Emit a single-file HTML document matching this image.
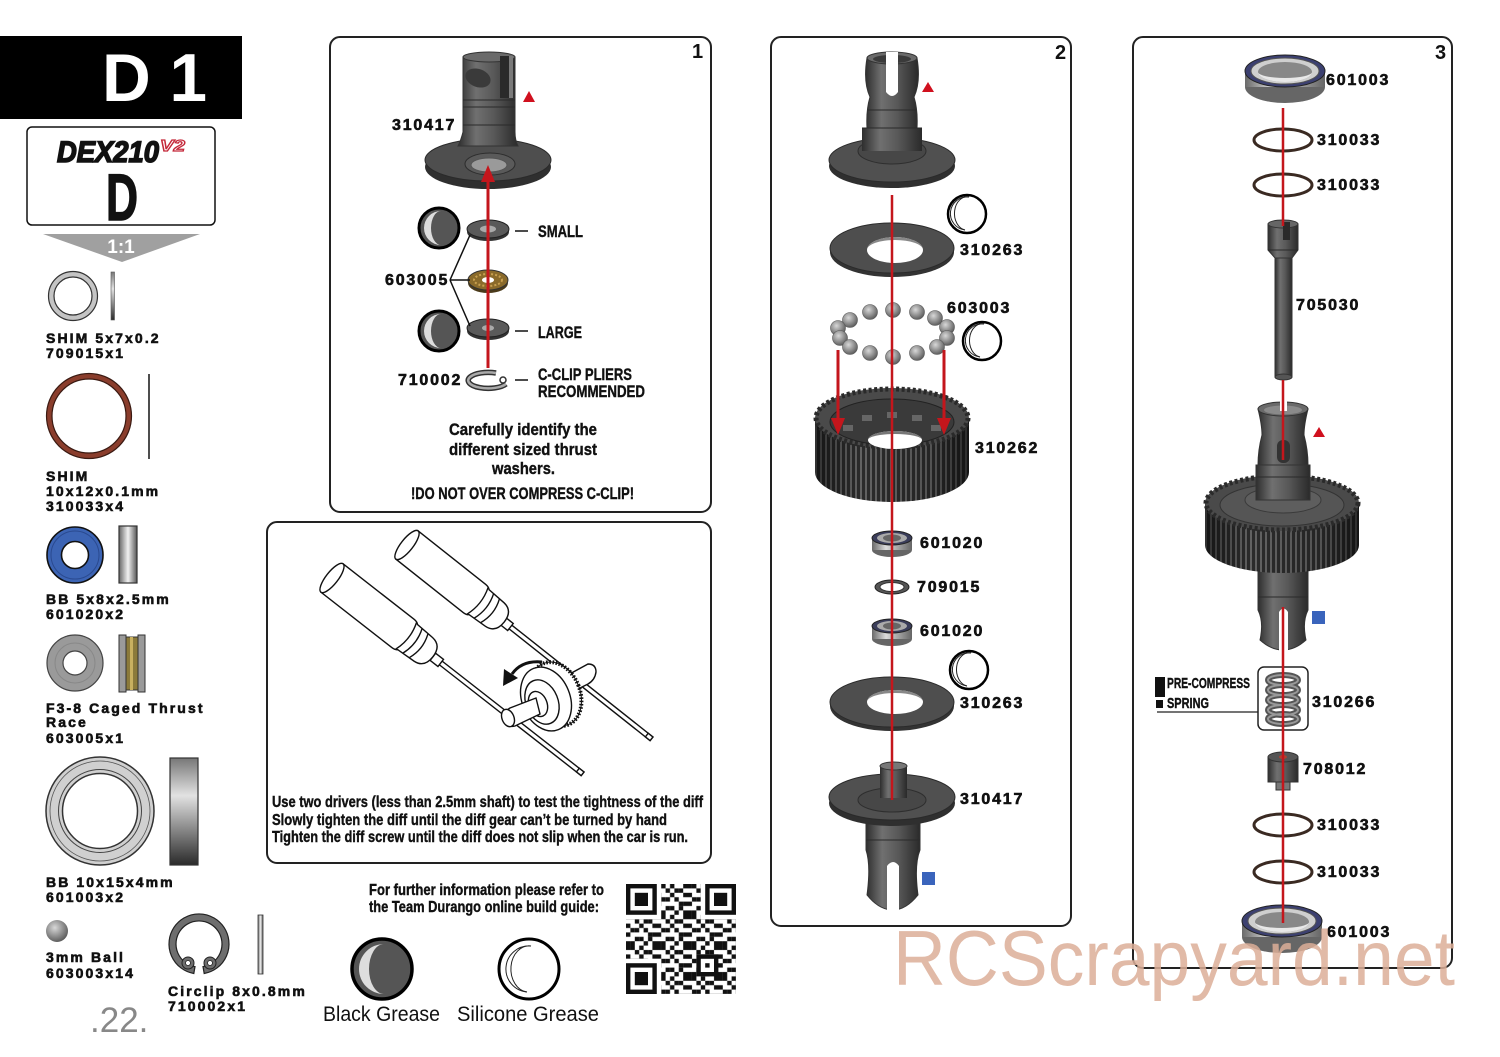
<!DOCTYPE html>
<html><head><meta charset="utf-8">
<style>
html,body{margin:0;padding:0;background:#fff;}
svg{display:block;}
.lb{font-family:"Liberation Sans",sans-serif;font-weight:bold;font-size:16px;letter-spacing:1.8px;fill:#111;stroke:#111;stroke-width:0.6px;}
.pl{font-family:"Liberation Sans",sans-serif;font-weight:bold;font-size:14px;letter-spacing:2.1px;fill:#111;stroke:#111;stroke-width:0.6px;}
.cn{font-family:"Liberation Sans Narrow","Liberation Sans",sans-serif;font-weight:bold;fill:#111;stroke:#111;stroke-width:0.4px;}
</style></head><body>
<svg width="1500" height="1057" viewBox="0 0 1500 1057" xmlns="http://www.w3.org/2000/svg">
<defs>
<linearGradient id="cyl" x1="0" x2="1" y1="0" y2="0">
<stop offset="0" stop-color="#2e2e2e"/><stop offset="0.3" stop-color="#707070"/><stop offset="0.6" stop-color="#585858"/><stop offset="1" stop-color="#2a2a2a"/>
</linearGradient>
<linearGradient id="brg" x1="0" x2="1" y1="0" y2="0">
<stop offset="0" stop-color="#6a6a6a"/><stop offset="0.35" stop-color="#dcdcdc"/><stop offset="1" stop-color="#666"/>
</linearGradient>
<linearGradient id="side" x1="0" x2="1" y1="0" y2="0">
<stop offset="0" stop-color="#666"/><stop offset="0.5" stop-color="#f2f2f2"/><stop offset="1" stop-color="#555"/>
</linearGradient>
<linearGradient id="sidev" x1="0" x2="0" y1="0" y2="1">
<stop offset="0" stop-color="#777"/><stop offset="0.35" stop-color="#e2e2e2"/><stop offset="1" stop-color="#2a2a2a"/>
</linearGradient>
<radialGradient id="ball" cx="0.4" cy="0.35" r="0.7">
<stop offset="0" stop-color="#d8d8d8"/><stop offset="1" stop-color="#555"/>
</radialGradient>
<pattern id="teeth" width="5" height="400" patternUnits="userSpaceOnUse">
<rect width="5" height="400" fill="#2b2b2b"/><rect width="2" height="400" fill="#626262"/>
</pattern>
<linearGradient id="shade" x1="0" x2="1" y1="0" y2="0">
<stop offset="0" stop-color="#000" stop-opacity="0.5"/><stop offset="0.3" stop-color="#000" stop-opacity="0"/><stop offset="0.75" stop-color="#000" stop-opacity="0.15"/><stop offset="1" stop-color="#000" stop-opacity="0.55"/>
</linearGradient>
<pattern id="qr" width="30.8" height="30.8" patternUnits="userSpaceOnUse" x="626" y="884">
<g fill="#111">
<rect x="0" y="0" width="4.4" height="4.4"/><rect x="4.4" y="0" width="4.4" height="4.4"/><rect x="13.2" y="0" width="4.4" height="4.4"/><rect x="26.4" y="0" width="4.4" height="4.4"/>
<rect x="8.8" y="4.4" width="4.4" height="4.4"/><rect x="17.6" y="4.4" width="4.4" height="4.4"/><rect x="22" y="4.4" width="4.4" height="4.4"/>
<rect x="0" y="8.8" width="4.4" height="4.4"/><rect x="13.2" y="8.8" width="4.4" height="4.4"/><rect x="26.4" y="8.8" width="4.4" height="4.4"/>
<rect x="4.4" y="13.2" width="4.4" height="4.4"/><rect x="8.8" y="13.2" width="4.4" height="4.4"/><rect x="17.6" y="13.2" width="4.4" height="4.4"/>
<rect x="0" y="17.6" width="4.4" height="4.4"/><rect x="22" y="17.6" width="4.4" height="4.4"/><rect x="26.4" y="17.6" width="4.4" height="4.4"/>
<rect x="8.8" y="22" width="4.4" height="4.4"/><rect x="13.2" y="22" width="4.4" height="4.4"/><rect x="22" y="22" width="4.4" height="4.4"/>
<rect x="0" y="26.4" width="4.4" height="4.4"/><rect x="4.4" y="26.4" width="4.4" height="4.4"/><rect x="17.6" y="26.4" width="4.4" height="4.4"/><rect x="26.4" y="26.4" width="4.4" height="4.4"/>
</g>
</pattern>
</defs>

<rect width="1500" height="1057" fill="#fff"/>

<!-- ===== HEADER ===== -->
<rect x="0" y="36" width="242" height="83" fill="#000"/>
<text x="102" y="101" font-family="Liberation Sans, sans-serif" font-weight="bold" font-size="68" fill="#fff" textLength="105" lengthAdjust="spacingAndGlyphs">D 1</text>

<rect x="27" y="127" width="188" height="98" rx="5" fill="#fff" stroke="#111" stroke-width="1.5"/>
<text x="57" y="162" font-family="Liberation Sans, sans-serif" font-weight="bold" font-style="italic" font-size="30" fill="#111" stroke="#111" stroke-width="1.6" textLength="102" lengthAdjust="spacingAndGlyphs">DEX210</text>
<text x="160" y="151" font-family="Liberation Sans, sans-serif" font-weight="bold" font-style="italic" font-size="16" fill="#fff" stroke="#c4283a" stroke-width="1.2" textLength="25" lengthAdjust="spacingAndGlyphs">V2</text>
<text x="106" y="220" font-family="Liberation Sans, sans-serif" font-weight="bold" font-size="66" fill="#111" stroke="#111" stroke-width="1.5" textLength="32" lengthAdjust="spacingAndGlyphs">D</text>
<polygon points="43,234 200,234 122,262" fill="#a0a0a0"/>
<text x="121" y="253" text-anchor="middle" font-family="Liberation Sans, sans-serif" font-weight="bold" font-size="19" fill="#fff">1:1</text>

<!-- ===== PARTS LIST ===== -->
<circle cx="73" cy="296" r="24.5" fill="#c4c4c4" stroke="#333" stroke-width="1.2"/>
<circle cx="73" cy="296" r="19" fill="#fff" stroke="#333" stroke-width="1.2"/>
<rect x="111" y="272" width="3.5" height="48" fill="url(#sidev)" stroke="#555" stroke-width="0.6"/>
<text class="pl" x="46" y="343">SHIM 5x7x0.2</text>
<text class="pl" x="46" y="358">709015x1</text>

<circle cx="89" cy="416" r="42.5" fill="#8a3d2c" stroke="#3a1a12" stroke-width="1.2"/>
<circle cx="89" cy="416" r="37" fill="#fff" stroke="#3a1a12" stroke-width="1.2"/>
<line x1="149" y1="374" x2="149" y2="459" stroke="#222" stroke-width="1.6"/>
<text class="pl" x="46" y="481">SHIM</text>
<text class="pl" x="46" y="496">10x12x0.1mm</text>
<text class="pl" x="46" y="511">310033x4</text>

<circle cx="75" cy="555" r="28" fill="#3c64b4" stroke="#111" stroke-width="1.6"/>
<circle cx="75" cy="555" r="24" fill="none" stroke="#2a4a90" stroke-width="1"/>
<circle cx="75" cy="555" r="13.5" fill="#fff" stroke="#111" stroke-width="1.6"/>
<rect x="119" y="526" width="18" height="57" fill="url(#side)" stroke="#333" stroke-width="1.2"/>
<text class="pl" x="46" y="604">BB 5x8x2.5mm</text>
<text class="pl" x="46" y="619">601020x2</text>

<circle cx="75" cy="663" r="28" fill="#9a9a9a" stroke="#444" stroke-width="1.2"/>
<circle cx="75" cy="663" r="20" fill="none" stroke="#888" stroke-width="1"/>
<circle cx="75" cy="663" r="12" fill="#fff" stroke="#444" stroke-width="1.2"/>
<rect x="119" y="635" width="7" height="57" fill="#9a9a9a" stroke="#333"/>
<rect x="126" y="637" width="12" height="53" fill="#8b7a3a" stroke="#333"/>
<rect x="130" y="637" width="3" height="53" fill="#c8b060"/>
<rect x="138" y="635" width="7" height="57" fill="#9a9a9a" stroke="#333"/>
<text class="pl" x="46" y="713">F3-8 Caged Thrust</text>
<text class="pl" x="46" y="727">Race</text>
<text class="pl" x="46" y="743">603005x1</text>

<circle cx="100" cy="811" r="54" fill="#d0d0d0" stroke="#333" stroke-width="1.5"/>
<circle cx="100" cy="811" r="50" fill="none" stroke="#555" stroke-width="0.8"/>
<circle cx="100" cy="811" r="41.5" fill="none" stroke="#444" stroke-width="1"/>
<circle cx="100" cy="811" r="37.5" fill="#fff" stroke="#333" stroke-width="1.5"/>
<rect x="170" y="758" width="28" height="107" fill="url(#sidev)" stroke="#333" stroke-width="1.2"/>
<text class="pl" x="46" y="887">BB 10x15x4mm</text>
<text class="pl" x="46" y="902">601003x2</text>

<circle cx="57" cy="931" r="11" fill="url(#ball)"/>
<text class="pl" x="46" y="962">3mm Ball</text>
<text class="pl" x="46" y="978">603003x14</text>

<path d="M193.8,973.5 A30,30 0 1 1 204.2,973.5 L203,966.6 A23,23 0 1 0 195,966.6 Z" fill="#6e6e6e" stroke="#222" stroke-width="1.2"/>
<circle cx="188" cy="963" r="6" fill="#6e6e6e" stroke="#222"/>
<circle cx="210" cy="963" r="6" fill="#6e6e6e" stroke="#222"/>
<circle cx="188" cy="963" r="2.5" fill="#fff" stroke="#222" stroke-width="0.8"/>
<circle cx="210" cy="963" r="2.5" fill="#fff" stroke="#222" stroke-width="0.8"/>
<rect x="258" y="915" width="5" height="59" fill="url(#side)" stroke="#333" stroke-width="0.8"/>
<text class="pl" x="168" y="996">Circlip 8x0.8mm</text>
<text class="pl" x="168" y="1011">710002x1</text>

<text x="90" y="1032" font-family="Liberation Sans, sans-serif" font-size="35" fill="#888">.22.</text>

<!-- ===== PANEL 1 ===== -->
<rect x="330" y="37" width="381" height="475" rx="10" fill="#fff" stroke="#222" stroke-width="2"/>
<text x="692" y="58" font-family="Liberation Sans, sans-serif" font-weight="bold" font-size="20" fill="#111">1</text>

<ellipse cx="488" cy="167" rx="63" ry="22" fill="#2f2f2f"/>
<ellipse cx="488" cy="160" rx="63" ry="21" fill="#4e4e4e" stroke="#2a2a2a"/>
<path d="M463,57 L463,132 Q461,140 458,146 L518,146 Q515,140 515,132 L515,57 Z" fill="url(#cyl)" stroke="#333"/>
<ellipse cx="489" cy="57" rx="26" ry="5" fill="#6a6a6a" stroke="#333"/>
<ellipse cx="478" cy="78" rx="13" ry="9" transform="rotate(20 478 78)" fill="#3a3a3a"/>
<rect x="500" y="56" width="9" height="42" fill="#2a2a2a"/>
<rect x="509" y="56" width="4" height="42" fill="#7a7a7a"/>
<line x1="463" y1="100" x2="515" y2="100" stroke="#2a2a2a"/>
<line x1="463" y1="107" x2="515" y2="107" stroke="#2a2a2a"/>
<line x1="463" y1="125" x2="515" y2="125" stroke="#2a2a2a"/>
<ellipse cx="490" cy="164" rx="25" ry="11" fill="#5a5a5a" stroke="#2e2e2e"/>
<ellipse cx="489" cy="165" rx="18" ry="7" fill="#9a9a9a" stroke="#555"/>
<polygon points="523,102 535,102 529,91" fill="#d0101e"/>

<circle cx="439" cy="228" r="20" fill="#555" stroke="#000" stroke-width="3"/>
<path d="M441,211 A17,17 0 0 0 441,245 A10,17 0 0 1 441,211 Z" fill="#ddd"/>
<circle cx="439" cy="331" r="20" fill="#555" stroke="#000" stroke-width="3"/>
<path d="M441,314 A17,17 0 0 0 441,348 A10,17 0 0 1 441,314 Z" fill="#ddd"/>

<ellipse cx="488" cy="232" rx="21" ry="9" fill="#333"/>
<ellipse cx="488" cy="229" rx="21" ry="9" fill="#5a5a5a" stroke="#222"/>
<ellipse cx="488" cy="229" rx="8" ry="3.5" fill="#aaa"/>
<ellipse cx="488" cy="283" rx="20" ry="10" fill="#4a3a1a"/>
<ellipse cx="488" cy="280" rx="20" ry="10" fill="#8a6a2a" stroke="#333"/>
<ellipse cx="488" cy="280" rx="14" ry="6" fill="none" stroke="#c8a050" stroke-width="2" stroke-dasharray="2 2"/>
<ellipse cx="488" cy="280" rx="6" ry="3" fill="#fff"/>
<ellipse cx="488" cy="331" rx="21" ry="9" fill="#333"/>
<ellipse cx="488" cy="328" rx="21" ry="9" fill="#5a5a5a" stroke="#222"/>
<ellipse cx="488" cy="328" rx="6" ry="3" fill="#aaa"/>
<path d="M496,373 A20,8 0 1 0 506,384" fill="none" stroke="#333" stroke-width="5.5"/>
<path d="M496,373 A20,8 0 1 0 506,384" fill="none" stroke="#aaa" stroke-width="2.5"/>
<circle cx="503" cy="380" r="3" fill="none" stroke="#333" stroke-width="1.5"/>

<line x1="488" y1="178" x2="488" y2="368" stroke="#c4161c" stroke-width="3"/>
<polygon points="481,182 495,182 488,165" fill="#c4161c"/>

<line x1="515" y1="231" x2="528" y2="231" stroke="#111" stroke-width="1.5"/>
<line x1="515" y1="331" x2="528" y2="331" stroke="#111" stroke-width="1.5"/>
<line x1="515" y1="380" x2="528" y2="380" stroke="#111" stroke-width="1.5"/>
<path d="M450,280 L470,235 M450,280 L470,280 M450,280 L470,326" fill="none" stroke="#111" stroke-width="1.5"/>

<text class="lb" x="392" y="130">310417</text>
<text class="lb" x="385" y="285">603005</text>
<text class="lb" x="398" y="385">710002</text>
<text class="cn" x="538" y="237" font-size="17" textLength="45" lengthAdjust="spacingAndGlyphs">SMALL</text>
<text class="cn" x="538" y="338" font-size="17" textLength="44" lengthAdjust="spacingAndGlyphs">LARGE</text>
<text class="cn" x="538" y="380" font-size="17" textLength="94" lengthAdjust="spacingAndGlyphs">C-CLIP PLIERS</text>
<text class="cn" x="538" y="397" font-size="17" textLength="107" lengthAdjust="spacingAndGlyphs">RECOMMENDED</text>
<text class="cn" x="449" y="435" font-size="17" textLength="148" lengthAdjust="spacingAndGlyphs">Carefully identify the</text>
<text class="cn" x="449" y="455" font-size="17" textLength="148" lengthAdjust="spacingAndGlyphs">different sized thrust</text>
<text class="cn" x="492" y="474" font-size="17" textLength="63" lengthAdjust="spacingAndGlyphs">washers.</text>
<text class="cn" x="411" y="499" font-size="17" textLength="223" lengthAdjust="spacingAndGlyphs">!DO NOT OVER COMPRESS C-CLIP!</text>

<!-- ===== MIDDLE PANEL (drivers) ===== -->
<rect x="267" y="522" width="444" height="341" rx="10" fill="#fff" stroke="#222" stroke-width="2"/>
<g stroke="#111" stroke-width="1.4" fill="#fff">
 <g transform="translate(407,545) rotate(38.4)">
  <rect x="128" y="-2.3" width="184" height="4.6"/>
  <rect x="122" y="-4.5" width="10" height="9"/>
  <path d="M0,-18 L86,-18 Q90,-18 92,-16 L112,-15 Q124,-14 124,0 Q124,14 112,15 L92,16 Q90,18 86,18 L0,18 Z"/>
  <ellipse cx="0" cy="0" rx="6" ry="18"/>
  <path d="M90,-17 Q96,0 90,17 M98,-16 Q104,0 98,16 M106,-15 Q112,0 106,15" fill="none"/>
  <rect x="306" y="-2.3" width="6" height="4.6"/>
 </g>
 <g transform="translate(332,578) rotate(38)">
  <rect x="134" y="-2.3" width="184" height="4.6"/>
  <rect x="128" y="-4.5" width="10" height="9"/>
  <path d="M0,-18 L90,-18 Q94,-18 96,-16 L116,-15 Q128,-14 128,0 Q128,14 116,15 L96,16 Q94,18 90,18 L0,18 Z"/>
  <ellipse cx="0" cy="0" rx="6" ry="18"/>
  <path d="M94,-17 Q100,0 94,17 M102,-16 Q108,0 102,16 M110,-15 Q116,0 110,15" fill="none"/>
  <rect x="312" y="-2.3" width="6" height="4.6"/>
 </g>
 <path d="M566,676 L588,664 Q596,664 596,672 Q595,680 588,684 L572,692 Z"/>
 <ellipse cx="556" cy="694" rx="24" ry="33" transform="rotate(-22 556 694)" stroke-width="4" stroke-dasharray="1.6 1.6"/>
 <ellipse cx="556" cy="694" rx="24" ry="33" transform="rotate(-22 556 694)" fill="none" stroke-width="1"/>
 <ellipse cx="546" cy="699" rx="24" ry="33" transform="rotate(-22 546 699)" stroke-width="1.4"/>
 <ellipse cx="542" cy="702" rx="16" ry="23" transform="rotate(-22 542 702)"/>
 <ellipse cx="538" cy="704" rx="9" ry="13" transform="rotate(-22 538 704)"/>
 <path d="M536,698 L510,708 Q503,712 504,720 Q507,728 515,726 L540,714 Z"/>
 <ellipse cx="508" cy="718" rx="6" ry="9" transform="rotate(-22 508 718)"/>
 <path d="M542,662 Q522,660 512,674" fill="none" stroke-width="3"/>
</g>
<polygon points="503,686 504,669 518,678" fill="#111"/>
<text class="cn" x="272" y="807" font-size="16" textLength="431" lengthAdjust="spacingAndGlyphs">Use two drivers (less than 2.5mm shaft) to test the tightness of the diff</text>
<text class="cn" x="272" y="825" font-size="16" textLength="395" lengthAdjust="spacingAndGlyphs">Slowly tighten the diff until the diff gear can’t be turned by hand</text>
<text class="cn" x="272" y="842" font-size="16" textLength="416" lengthAdjust="spacingAndGlyphs">Tighten the diff screw until the diff does not slip when the car is run.</text>

<!-- ===== BOTTOM INFO ===== -->
<text class="cn" x="369" y="895" font-size="16" textLength="235" lengthAdjust="spacingAndGlyphs">For further information please refer to</text>
<text class="cn" x="369" y="912" font-size="16" textLength="230" lengthAdjust="spacingAndGlyphs">the Team Durango online build guide:</text>
<circle cx="382" cy="969" r="30" fill="#555" stroke="#000" stroke-width="3.5"/>
<path d="M384,944 A25,25 0 0 0 384,994 A15,25 0 0 1 384,944 Z" fill="#ddd"/>
<circle cx="529" cy="969" r="30" fill="#fff" stroke="#000" stroke-width="3"/>
<path d="M531,946 A23,23 0 0 0 527,992" fill="none" stroke="#222" stroke-width="1"/>
<path d="M531,946 A18,23 0 0 0 527,992" fill="none" stroke="#222" stroke-width="1"/>
<text x="323" y="1021" font-family="Liberation Sans, sans-serif" font-size="21" fill="#111" textLength="117" lengthAdjust="spacingAndGlyphs">Black Grease</text>
<text x="457" y="1021" font-family="Liberation Sans, sans-serif" font-size="21" fill="#111" textLength="142" lengthAdjust="spacingAndGlyphs">Silicone Grease</text>

<rect x="626" y="884" width="110" height="110" fill="#fff"/>
<rect x="626" y="884" width="110" height="110" fill="url(#qr)"/>
<g>
 <rect x="626" y="884" width="35.2" height="35.2" fill="#fff"/>
 <rect x="626" y="884" width="30.8" height="30.8" fill="#111"/><rect x="630.4" y="888.4" width="22" height="22" fill="#fff"/><rect x="634.8" y="892.8" width="13.2" height="13.2" fill="#111"/>
 <rect x="700.8" y="884" width="35.2" height="35.2" fill="#fff"/>
 <rect x="705.2" y="884" width="30.8" height="30.8" fill="#111"/><rect x="709.6" y="888.4" width="22" height="22" fill="#fff"/><rect x="714" y="892.8" width="13.2" height="13.2" fill="#111"/>
 <rect x="626" y="958.8" width="35.2" height="35.2" fill="#fff"/>
 <rect x="626" y="963.2" width="30.8" height="30.8" fill="#111"/><rect x="630.4" y="967.6" width="22" height="22" fill="#fff"/><rect x="634.8" y="972" width="13.2" height="13.2" fill="#111"/>
 <rect x="696.4" y="954.4" width="22" height="22" fill="#111"/><rect x="700.8" y="958.8" width="13.2" height="13.2" fill="#fff"/><rect x="705.2" y="963.2" width="4.4" height="4.4" fill="#111"/>
</g>

<!-- ===== PANEL 2 ===== -->
<rect x="771" y="37" width="300" height="889" rx="10" fill="#fff" stroke="#222" stroke-width="2"/>
<text x="1055" y="59" font-family="Liberation Sans, sans-serif" font-weight="bold" font-size="20" fill="#111">2</text>

<ellipse cx="892" cy="166" rx="63" ry="22" fill="#2f2f2f"/>
<ellipse cx="892" cy="160" rx="63" ry="22" fill="#505050" stroke="#2a2a2a"/>
<ellipse cx="892" cy="151" rx="34" ry="13" fill="#474747" stroke="#2e2e2e"/>
<rect x="862" y="128" width="60" height="23" fill="url(#cyl)"/>
<path d="M867,58 Q863,82 870,97 Q866,110 867,128 L917,128 Q918,110 914,97 Q921,82 917,58 Z" fill="url(#cyl)" stroke="#333"/>
<ellipse cx="892" cy="58" rx="25" ry="6" fill="#6a6a6a" stroke="#333"/>
<ellipse cx="892" cy="59" rx="19" ry="4" fill="#3a3a3a"/>
<path d="M886,52 L886,92 Q892,100 898,92 L898,52 Z" fill="#fff"/>
<line x1="868" y1="110" x2="916" y2="110" stroke="#2a2a2a"/>
<line x1="862" y1="128" x2="922" y2="128" stroke="#2a2a2a"/>
<polygon points="922,92 934,92 928,82" fill="#d0101e"/>

<ellipse cx="892" cy="252" rx="62" ry="25" fill="#333"/>
<ellipse cx="892" cy="248" rx="62" ry="25" fill="#4e4e4e" stroke="#2a2a2a"/>
<ellipse cx="895" cy="250" rx="28" ry="13" fill="#fff"/>
<path d="M867,250 A28,13 0 0 1 923,250 A28,10 0 0 0 867,250 Z" fill="#888"/>
<circle cx="967" cy="214" r="19" fill="#fff" stroke="#000" stroke-width="2.5"/>
<path d="M969,197 A16,16 0 0 0 965,230" fill="none" stroke="#222" stroke-width="1"/>
<path d="M969,197 A12,16 0 0 0 965,230" fill="none" stroke="#222" stroke-width="1"/>

<g fill="url(#ball)" stroke="#555" stroke-width="0.6">
<circle cx="893" cy="310" r="7.5"/><circle cx="870" cy="312" r="7.5"/><circle cx="917" cy="312" r="7.5"/>
<circle cx="850" cy="320" r="7.5"/><circle cx="935" cy="318" r="7.5"/><circle cx="838" cy="328" r="7.5"/>
<circle cx="947" cy="327" r="7.5"/><circle cx="840" cy="338" r="7.5"/><circle cx="947" cy="338" r="7.5"/>
<circle cx="850" cy="347" r="7.5"/><circle cx="937" cy="347" r="7.5"/><circle cx="870" cy="353" r="7.5"/>
<circle cx="893" cy="357" r="7.5"/><circle cx="917" cy="353" r="7.5"/>
</g>
<circle cx="982" cy="341" r="19" fill="#fff" stroke="#000" stroke-width="2.5"/>
<path d="M984,324 A16,16 0 0 0 980,357" fill="none" stroke="#222" stroke-width="1"/>
<path d="M984,324 A12,16 0 0 0 980,357" fill="none" stroke="#222" stroke-width="1"/>

<path d="M815,418 L815,472 A77,30 0 0 0 969,472 L969,418 Z" fill="url(#teeth)"/>
<path d="M815,418 L815,472 A77,30 0 0 0 969,472 L969,418 Z" fill="url(#shade)"/>
<ellipse cx="892" cy="418" rx="77" ry="30" fill="#4a4a4a"/>
<ellipse cx="892" cy="418" rx="76" ry="29" fill="none" stroke="#2a2a2a" stroke-width="5" stroke-dasharray="3 2.5"/>
<ellipse cx="892" cy="422" rx="62" ry="23" fill="#3a3a3a" stroke="#222"/>
<g fill="#666">
<rect x="843" y="425" width="10" height="6"/><rect x="862" y="415" width="10" height="6"/><rect x="887" y="412" width="10" height="6"/><rect x="912" y="415" width="10" height="6"/><rect x="931" y="425" width="10" height="6"/>
</g>
<ellipse cx="895" cy="440" rx="27" ry="9" fill="#fff"/>
<path d="M868,440 A27,9 0 0 1 922,440 A27,6 0 0 0 868,440 Z" fill="#777"/>
<line x1="838" y1="350" x2="838" y2="420" stroke="#c4161c" stroke-width="3"/>
<polygon points="831,418 845,418 838,435" fill="#c4161c"/>
<line x1="944" y1="350" x2="944" y2="420" stroke="#c4161c" stroke-width="3"/>
<polygon points="937,418 951,418 944,435" fill="#c4161c"/>

<ellipse cx="892" cy="550" rx="20" ry="7" fill="#666"/>
<rect x="872" y="538" width="40" height="12" fill="url(#brg)"/>
<ellipse cx="892" cy="538" rx="20" ry="7" fill="#3a3d5a" stroke="#222"/>
<ellipse cx="892" cy="538" rx="15" ry="5" fill="#aaa"/>
<ellipse cx="892" cy="538" rx="9" ry="3.5" fill="#666"/>
<ellipse cx="892" cy="587" rx="17" ry="7" fill="#555" stroke="#222"/>
<ellipse cx="892" cy="587" rx="12" ry="4.5" fill="#fff" stroke="#333"/>
<ellipse cx="892" cy="639" rx="20" ry="7" fill="#666"/>
<rect x="872" y="626" width="40" height="13" fill="url(#brg)"/>
<ellipse cx="892" cy="626" rx="20" ry="7" fill="#3a3d5a" stroke="#222"/>
<ellipse cx="892" cy="626" rx="15" ry="5" fill="#aaa"/>
<ellipse cx="892" cy="626" rx="9" ry="3.5" fill="#666"/>

<ellipse cx="892" cy="706" rx="62" ry="25" fill="#333"/>
<ellipse cx="892" cy="702" rx="62" ry="25" fill="#4e4e4e" stroke="#2a2a2a"/>
<ellipse cx="895" cy="702" rx="28" ry="12" fill="#fff"/>
<path d="M867,702 A28,12 0 0 1 923,702 A28,9 0 0 0 867,702 Z" fill="#888"/>
<circle cx="969" cy="670" r="19" fill="#fff" stroke="#000" stroke-width="2.5"/>
<path d="M971,653 A16,16 0 0 0 967,686" fill="none" stroke="#222" stroke-width="1"/>
<path d="M971,653 A12,16 0 0 0 967,686" fill="none" stroke="#222" stroke-width="1"/>

<path d="M866,818 L920,818 L920,850 Q914,865 918,895 Q906,910 893,910 Q879,910 867,895 Q871,865 866,850 Z" fill="url(#cyl)" stroke="#333"/>
<line x1="866" y1="840" x2="920" y2="840" stroke="#2a2a2a"/>
<path d="M887,911 L887,866 Q893,858 899,866 L899,911 Z" fill="#fff"/>
<ellipse cx="892" cy="803" rx="63" ry="23" fill="#2f2f2f"/>
<ellipse cx="892" cy="797" rx="63" ry="23" fill="#505050" stroke="#2a2a2a"/>
<ellipse cx="892" cy="800" rx="34" ry="12" fill="#474747" stroke="#2e2e2e"/>
<rect x="880" y="766" width="27" height="32" fill="url(#cyl)"/>
<ellipse cx="893.5" cy="766" rx="13.5" ry="4" fill="#777" stroke="#333"/>
<rect x="922" y="872" width="13" height="13" fill="#3a64bc"/>

<line x1="892" y1="195" x2="892" y2="800" stroke="#c4161c" stroke-width="2.5"/>

<text class="lb" x="960" y="255">310263</text>
<text class="lb" x="947" y="313">603003</text>
<text class="lb" x="975" y="453">310262</text>
<text class="lb" x="920" y="548">601020</text>
<text class="lb" x="917" y="592">709015</text>
<text class="lb" x="920" y="636">601020</text>
<text class="lb" x="960" y="708">310263</text>
<text class="lb" x="960" y="804">310417</text>

<!-- ===== PANEL 3 ===== -->
<rect x="1133" y="37" width="319" height="931" rx="10" fill="#fff" stroke="#222" stroke-width="2"/>
<text x="1435" y="59" font-family="Liberation Sans, sans-serif" font-weight="bold" font-size="20" fill="#111">3</text>

<ellipse cx="1285" cy="87" rx="40" ry="16" fill="#666"/>
<rect x="1245" y="71" width="80" height="16" fill="url(#brg)"/>
<ellipse cx="1285" cy="71" rx="40" ry="16" fill="#3c4070" stroke="#222"/>
<ellipse cx="1285" cy="71" rx="34" ry="13" fill="#cfcfcf" stroke="#555"/>
<ellipse cx="1285" cy="72" rx="27" ry="10" fill="#888"/>
<path d="M1258,72 A27,10 0 0 0 1312,72 A27,6 0 0 1 1258,72 Z" fill="#e8e8e8"/>

<ellipse cx="1283" cy="140" rx="29" ry="11" fill="none" stroke="#3a2a22" stroke-width="3"/>
<ellipse cx="1283" cy="185" rx="29" ry="11" fill="none" stroke="#3a2a22" stroke-width="3"/>

<rect x="1275" y="255" width="17" height="122" fill="url(#cyl)" stroke="#333"/>
<ellipse cx="1283.5" cy="377" rx="8.5" ry="3" fill="#555" stroke="#333"/>
<path d="M1268,224 L1298,224 L1298,250 L1292,258 L1275,258 L1268,250 Z" fill="url(#cyl)" stroke="#333"/>
<ellipse cx="1283" cy="224" rx="15" ry="4" fill="#666" stroke="#333"/>
<rect x="1283" y="222" width="7" height="18" fill="#2a2a2a"/>
<line x1="1268" y1="250" x2="1298" y2="250" stroke="#2a2a2a"/>

<path d="M1258,570 L1308,570 L1308,610 Q1302,622 1306,640 Q1295,650 1283,650 Q1271,650 1260,640 Q1264,622 1258,610 Z" fill="url(#cyl)" stroke="#333"/>
<line x1="1258" y1="597" x2="1308" y2="597" stroke="#2a2a2a"/>
<path d="M1279,651 L1279,612 Q1283.5,605 1288,612 L1288,651 Z" fill="#fff"/>

<path d="M1205,503 L1205,545 A77,28 0 0 0 1359,545 L1359,503 Z" fill="url(#teeth)"/>
<path d="M1205,503 L1205,545 A77,28 0 0 0 1359,545 L1359,503 Z" fill="url(#shade)"/>
<ellipse cx="1282" cy="503" rx="77" ry="28" fill="#4a4a4a"/>
<ellipse cx="1282" cy="503" rx="76" ry="27" fill="none" stroke="#2a2a2a" stroke-width="5" stroke-dasharray="3 2.5"/>
<ellipse cx="1282" cy="505" rx="62" ry="21" fill="#555" stroke="#333"/>
<ellipse cx="1283" cy="500" rx="38" ry="13" fill="#5e5e5e" stroke="#3a3a3a"/>

<rect x="1256" y="465" width="54" height="35" fill="url(#cyl)" stroke="#333"/>
<path d="M1258,409 Q1262,425 1262,435 Q1258,450 1258,465 L1308,465 Q1308,450 1304,435 Q1304,425 1308,409 Z" fill="url(#cyl)" stroke="#333"/>
<ellipse cx="1283" cy="409" rx="25" ry="7" fill="#6a6a6a" stroke="#333"/>
<ellipse cx="1283" cy="410" rx="19" ry="4.5" fill="#8a8a8a"/>
<rect x="1280" y="401" width="7" height="10" fill="#fff"/>
<rect x="1277" y="440" width="13" height="23" rx="6" fill="#333"/>
<line x1="1256" y1="477" x2="1310" y2="477" stroke="#2a2a2a"/>
<polygon points="1313,437 1325,437 1319,427" fill="#d0101e"/>
<rect x="1312" y="611" width="13" height="13" fill="#3a64bc"/>

<rect x="1258" y="667" width="50" height="63" rx="6" fill="#fff" stroke="#222" stroke-width="1.5"/>
<g fill="none">
<ellipse cx="1283" cy="680" rx="15" ry="5" stroke="#555" stroke-width="6"/>
<ellipse cx="1283" cy="690" rx="15" ry="5" stroke="#555" stroke-width="6"/>
<ellipse cx="1283" cy="700" rx="15" ry="5" stroke="#555" stroke-width="6"/>
<ellipse cx="1283" cy="710" rx="15" ry="5" stroke="#555" stroke-width="6"/>
<ellipse cx="1283" cy="719" rx="15" ry="5" stroke="#555" stroke-width="6"/>
<ellipse cx="1283" cy="680" rx="15" ry="5" stroke="#999" stroke-width="2"/>
<ellipse cx="1283" cy="690" rx="15" ry="5" stroke="#999" stroke-width="2"/>
<ellipse cx="1283" cy="700" rx="15" ry="5" stroke="#999" stroke-width="2"/>
<ellipse cx="1283" cy="710" rx="15" ry="5" stroke="#999" stroke-width="2"/>
<ellipse cx="1283" cy="719" rx="15" ry="5" stroke="#999" stroke-width="2"/>
</g>
<line x1="1157" y1="712" x2="1258" y2="712" stroke="#222" stroke-width="1.2"/>
<rect x="1155" y="677" width="10" height="20" fill="#111"/>
<rect x="1156" y="700" width="7" height="8" fill="#111"/>
<text class="cn" x="1167" y="688" font-size="15" textLength="83" lengthAdjust="spacingAndGlyphs">PRE-COMPRESS</text>
<text class="cn" x="1167" y="708" font-size="15" textLength="42" lengthAdjust="spacingAndGlyphs">SPRING</text>

<rect x="1276" y="780" width="14" height="10" fill="#777" stroke="#333"/>
<rect x="1268" y="757" width="30" height="25" fill="url(#cyl)" stroke="#333"/>
<ellipse cx="1283" cy="757" rx="15" ry="5" fill="#555" stroke="#333"/>
<ellipse cx="1283" cy="757" rx="4" ry="2" fill="#b04030"/>

<ellipse cx="1283" cy="825" rx="29" ry="11" fill="none" stroke="#3a2a22" stroke-width="3"/>
<ellipse cx="1283" cy="872" rx="29" ry="11" fill="none" stroke="#3a2a22" stroke-width="3"/>

<ellipse cx="1282" cy="937" rx="40" ry="16" fill="#666"/>
<rect x="1242" y="921" width="80" height="16" fill="url(#brg)"/>
<ellipse cx="1282" cy="921" rx="40" ry="16" fill="#3c4070" stroke="#222"/>
<ellipse cx="1282" cy="921" rx="34" ry="13" fill="#cfcfcf" stroke="#555"/>
<ellipse cx="1282" cy="922" rx="27" ry="10" fill="#888"/>
<path d="M1255,922 A27,10 0 0 0 1309,922 A27,6 0 0 1 1255,922 Z" fill="#e8e8e8"/>

<line x1="1283" y1="108" x2="1283" y2="226" stroke="#c4161c" stroke-width="2.5"/>
<line x1="1283" y1="380" x2="1283" y2="460" stroke="#c4161c" stroke-width="2.5"/>
<line x1="1283" y1="607" x2="1283" y2="923" stroke="#c4161c" stroke-width="2.5"/>

<text class="lb" x="1326" y="85">601003</text>
<text class="lb" x="1317" y="145">310033</text>
<text class="lb" x="1317" y="190">310033</text>
<text class="lb" x="1296" y="310">705030</text>
<text class="lb" x="1312" y="707">310266</text>
<text class="lb" x="1303" y="774">708012</text>
<text class="lb" x="1317" y="830">310033</text>
<text class="lb" x="1317" y="877">310033</text>
<text class="lb" x="1327" y="937">601003</text>

<text x="893" y="985" font-family="Liberation Sans, sans-serif" font-size="78" fill="#dcae98" fill-opacity="0.85" textLength="562" lengthAdjust="spacingAndGlyphs">RCScrapyard.net</text>
</svg>
</body></html>
